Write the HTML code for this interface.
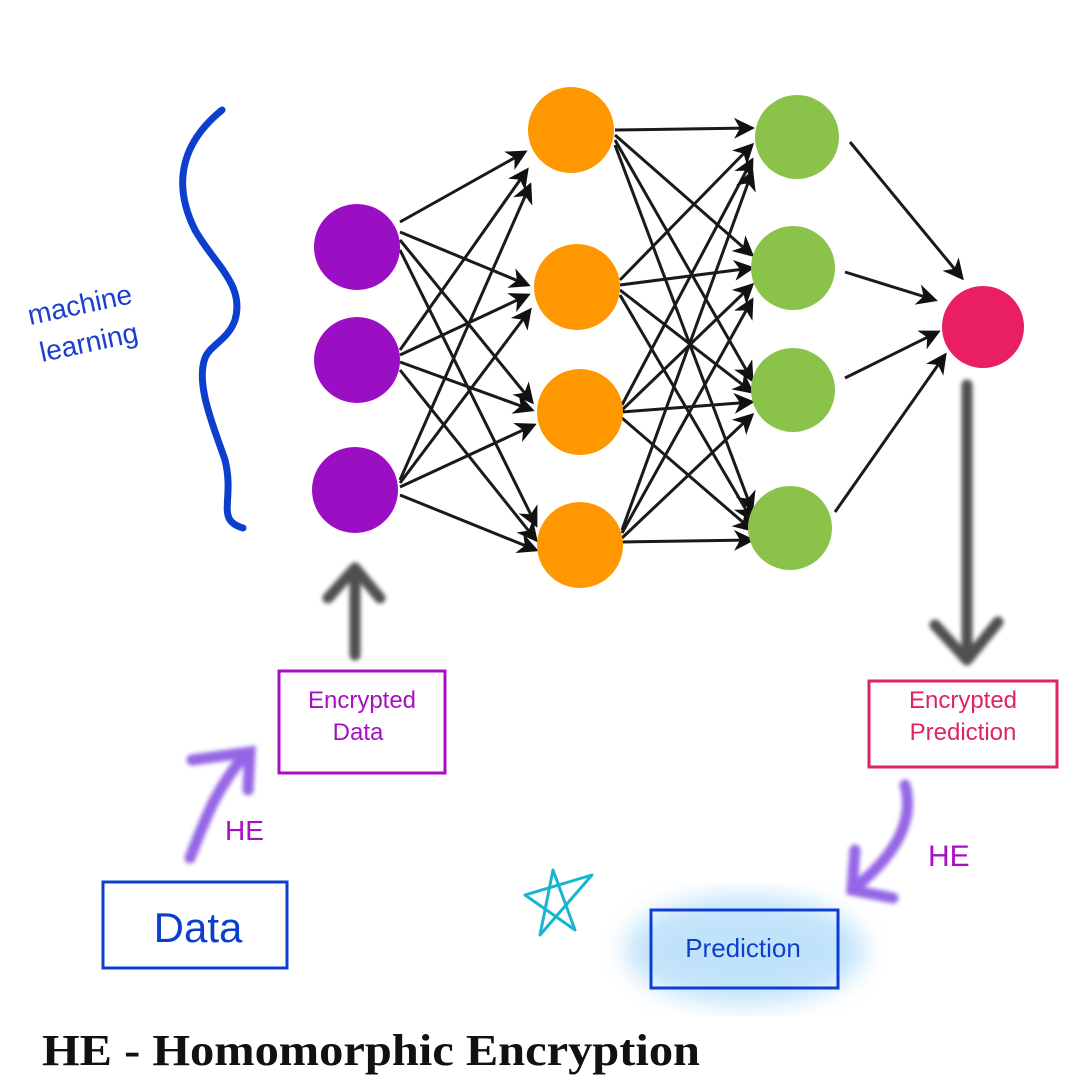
<!DOCTYPE html>
<html><head><meta charset="utf-8"><style>
html,body{margin:0;padding:0;background:#fff;width:1080px;height:1080px;overflow:hidden}
</style></head><body>
<svg width="1080" height="1080" viewBox="0 0 1080 1080" xmlns="http://www.w3.org/2000/svg">
<defs>
<marker id="ah" markerWidth="7" markerHeight="7" refX="6" refY="3.5" orient="auto" markerUnits="strokeWidth"><path d="M0,0 L7,3.5 L0,7 L2,3.5 Z" fill="#111"/></marker>
<filter id="blur"><feGaussianBlur stdDeviation="12"/></filter>
<filter id="sblur"><feGaussianBlur stdDeviation="2"/></filter>
</defs>
<g stroke="#1a1a1a" stroke-width="3" fill="none" marker-end="url(#ah)">
<line x1="400" y1="222" x2="525" y2="152"/><line x1="400" y1="232" x2="528" y2="285"/><line x1="400" y1="240" x2="532" y2="402"/><line x1="400" y1="250" x2="536" y2="525"/>
<line x1="400" y1="350" x2="527" y2="170"/><line x1="400" y1="355" x2="528" y2="295"/><line x1="400" y1="362" x2="532" y2="410"/><line x1="400" y1="370" x2="536" y2="540"/>
<line x1="400" y1="480" x2="530" y2="185"/><line x1="400" y1="483" x2="530" y2="310"/><line x1="400" y1="487" x2="534" y2="425"/><line x1="400" y1="495" x2="536" y2="550"/>
<line x1="615" y1="130" x2="752" y2="128"/><line x1="615" y1="135" x2="752" y2="255"/><line x1="615" y1="140" x2="752" y2="380"/><line x1="615" y1="145" x2="752" y2="510"/>
<line x1="620" y1="280" x2="752" y2="145"/><line x1="620" y1="285" x2="752" y2="268"/><line x1="620" y1="290" x2="752" y2="392"/><line x1="620" y1="295" x2="752" y2="520"/>
<line x1="622" y1="405" x2="752" y2="160"/><line x1="622" y1="410" x2="752" y2="285"/><line x1="622" y1="412" x2="752" y2="402"/><line x1="622" y1="418" x2="752" y2="530"/>
<line x1="622" y1="530" x2="752" y2="172"/><line x1="622" y1="533" x2="752" y2="300"/><line x1="622" y1="538" x2="752" y2="415"/><line x1="622" y1="542" x2="752" y2="540"/>
<line x1="850" y1="142" x2="962" y2="278"/><line x1="845" y1="272" x2="935" y2="300"/><line x1="845" y1="378" x2="938" y2="332"/><line x1="835" y1="512" x2="945" y2="355"/>
</g>
<g>
<circle cx="357" cy="247" r="43" fill="#9b0fc4"/><circle cx="357" cy="360" r="43" fill="#9b0fc4"/><circle cx="355" cy="490" r="43" fill="#9b0fc4"/>
<circle cx="571" cy="130" r="43" fill="#ff9800"/><circle cx="577" cy="287" r="43" fill="#ff9800"/><circle cx="580" cy="412" r="43" fill="#ff9800"/><circle cx="580" cy="545" r="43" fill="#ff9800"/>
<circle cx="797" cy="137" r="42" fill="#8bc34a"/><circle cx="793" cy="268" r="42" fill="#8bc34a"/><circle cx="793" cy="390" r="42" fill="#8bc34a"/><circle cx="790" cy="528" r="42" fill="#8bc34a"/>
<circle cx="983" cy="327" r="41" fill="#e91e63"/>
</g>
<path d="M222,110 C185,140 170,180 195,230 C215,265 245,285 235,320 C228,340 210,345 205,358 C195,385 215,430 225,460 C235,500 215,520 243,528" stroke="#0d3fcf" stroke-width="7" fill="none" stroke-linecap="round"/>
<text x="30" y="325" font-family="Liberation Sans, sans-serif" font-size="28" fill="#1a3fcf" transform="rotate(-12 30 325)">machine</text>
<text x="42" y="362" font-family="Liberation Sans, sans-serif" font-size="28" fill="#1a3fcf" transform="rotate(-12 42 362)">learning</text>
<g stroke="#333" stroke-width="11" fill="none" stroke-linecap="round" stroke-linejoin="round" opacity="0.85" filter="url(#sblur)">
<path d="M355,655 L355,570 M328,598 L355,568 L380,598"/>
<path d="M967,385 L967,660 M935,625 L967,660 L998,622"/>
</g>
<g stroke="#7a3fe0" stroke-width="11" fill="none" stroke-linecap="round" opacity="0.8" filter="url(#sblur)">
<path d="M190,858 C205,820 215,790 245,755 M192,760 L250,752 L248,790"/>
<path d="M905,785 C915,820 895,855 858,885 M855,850 L852,890 L893,898"/>
</g>
<g fill="none" stroke-width="3">
<rect x="279" y="671" width="166" height="102" stroke="#a80fc4"/>
<rect x="869" y="681" width="188" height="86" stroke="#e0245e"/>
<rect x="103" y="882" width="184" height="86" stroke="#0d3fcf"/>
</g>
<ellipse cx="745" cy="950" rx="120" ry="55" fill="#a8d8f8" opacity="0.7" filter="url(#blur)"/>
<rect x="651" y="910" width="187" height="78" fill="none" stroke="#0d3fcf" stroke-width="3"/>
<g font-family="Liberation Sans, sans-serif">
<text x="362" y="708" font-size="24" fill="#a80fc4" text-anchor="middle">Encrypted</text>
<text x="358" y="740" font-size="24" fill="#a80fc4" text-anchor="middle">Data</text>
<text x="963" y="708" font-size="24" fill="#e0245e" text-anchor="middle">Encrypted</text>
<text x="963" y="740" font-size="24" fill="#e0245e" text-anchor="middle">Prediction</text>
<text x="198" y="942" font-size="42" fill="#0d3fcf" text-anchor="middle">Data</text>
<text x="743" y="957" font-size="26" fill="#0d3fcf" text-anchor="middle">Prediction</text>
<text x="225" y="840" font-size="28" fill="#a80fc4">HE</text>
<text x="928" y="866" font-size="30" fill="#a80fc4">HE</text>
</g>
<path d="M540,935 L553,870 L575,930 L525,895 L592,875 Z" fill="none" stroke="#19b5d0" stroke-width="3" stroke-linejoin="round"/>
<text x="42" y="1065" font-family="Liberation Serif, serif" font-weight="bold" font-size="44" fill="#111" textLength="658" lengthAdjust="spacingAndGlyphs">HE - Homomorphic Encryption</text>
</svg>
</body></html>
